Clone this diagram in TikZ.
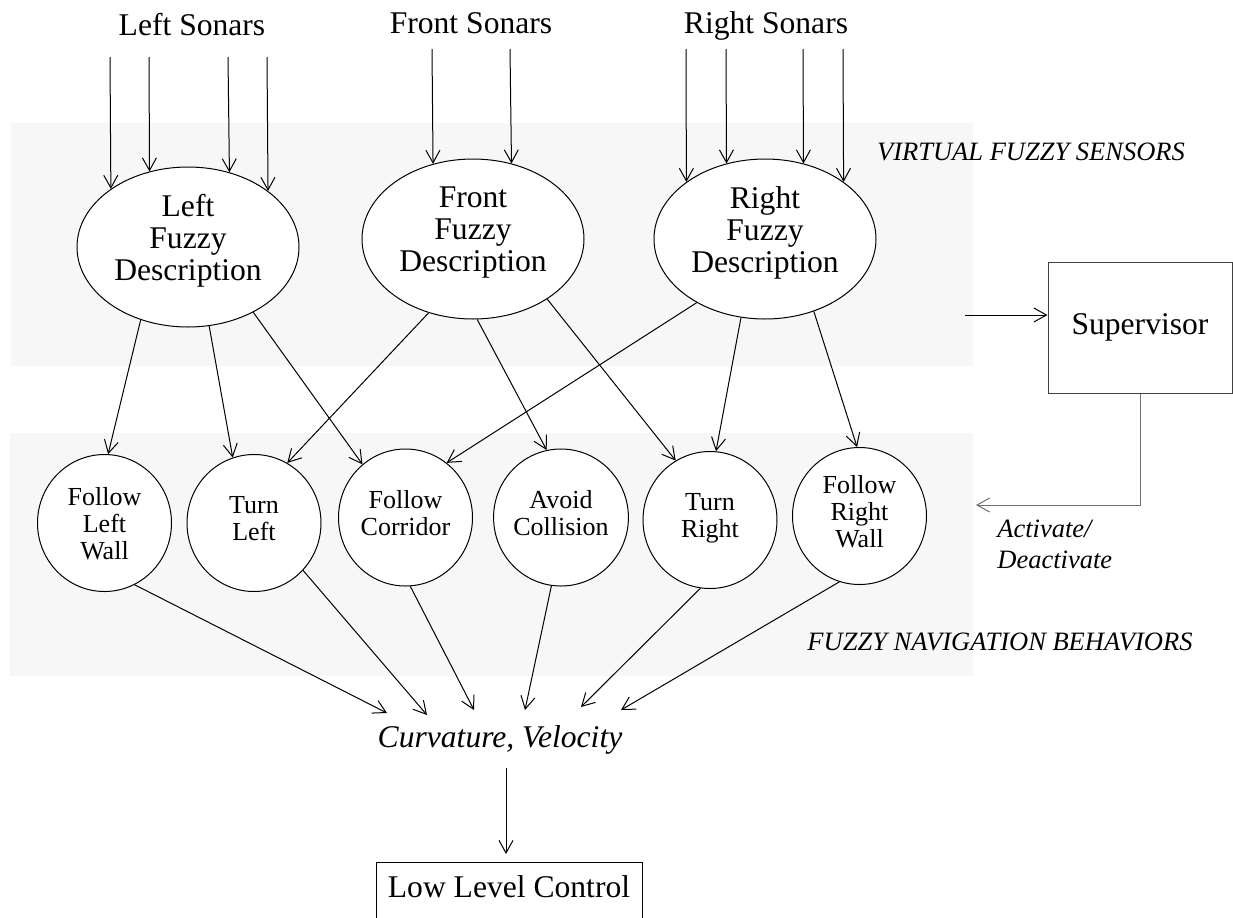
\documentclass[tikz,border=0pt]{standalone}
\usepackage{fontspec}
\setmainfont{Liberation Serif}
\usetikzlibrary{arrows.meta,shapes.geometric}
\definecolor{bandgray}{HTML}{F7F7F7}
\definecolor{fbgray}{HTML}{707070}
\begin{document}
\begin{tikzpicture}[x=0.5pt,y=-0.5pt,
  arr/.style={draw, line width=0.5pt, -{Straight Barb[length=6.3pt,width=7pt]}},
  bigtxt/.style={font=\fontsize{15.8}{16}\selectfont},
  desc/.style={ellipse, draw, fill=white, line width=0.5pt, inner sep=0pt,
    minimum width=111pt, minimum height=80pt, align=center, text depth=9.5pt, bigtxt},
  behav/.style={ellipse, draw, fill=white, line width=0.5pt, inner sep=0pt,
    minimum width=67pt, minimum height=68.5pt, align=center, text depth=5pt,
    font=\fontsize{13}{13.5}\selectfont},
  layer/.style={font=\fontsize{13.25}{15.5}\selectfont\itshape, anchor=base, inner xsep=0pt}]

\clip (0,0) rectangle (1233,917);
\fill[white] (0,0) rectangle (1233,917);

% layer bands
\fill[bandgray] (11,123) rectangle (973,366);
\fill[bandgray] (10,433) rectangle (973,676);

% sonar groups
\node[bigtxt, anchor=base] (LS) at (192,35) {Left Sonars};
\node[bigtxt, anchor=base] (FS) at (471,33) {Front Sonars};
\node[bigtxt, anchor=base] (RS) at (766,33) {Right Sonars};

% virtual fuzzy sensors
\node[desc] (L) at (188,247) {Left\\Fuzzy\\Description};
\node[desc] (F) at (473,239) {Front\\Fuzzy\\Description};
\node[desc] (R) at (765,239) {Right\\Fuzzy\\Description};

% fuzzy behaviours
\node[behav, text depth=0pt] (FLW) at (104.5,523) {Follow\\Left\\Wall};
\node[behav] (TL)  at (254,523)   {Turn\\Left};
\node[behav] (FC)  at (405.5,517.5) {Follow\\Corridor};
\node[behav] (AC)  at (561,517.5) {Avoid\\Collision};
\node[behav] (TR)  at (710,520)   {Turn\\Right};
\node[behav] (FRW) at (859.5,516) {Follow\\Right\\Wall};

% layer labels
\node[layer] (VFS) at (1031,160) {VIRTUAL FUZZY SENSORS};
\node[layer] (FNB) at (1000,650) {FUZZY NAVIGATION BEHAVIORS};

% supervisor
\node[draw=black!75, line width=0.5pt, minimum width=92pt, minimum height=65.5pt, bigtxt]
  (SUP) at (1140,327.5) {Supervisor};
\node[layer, anchor=base west] (ACT) at (997,537) {Activate/};
\node[layer, anchor=base west] (DEA) at (997,568) {Deactivate};

% outputs
\node[font=\fontsize{15.8}{16}\selectfont\itshape, anchor=base] (CV) at (500,747)
  {Curvature, Velocity};
\node[draw, line width=0.5pt, anchor=north, minimum width=133pt, text height=11pt,
  text depth=40pt, inner ysep=6.5pt, bigtxt] (LLC) at (509,862) {Low Level Control};

% sonar inputs
\coordinate (ls1) at (110,57);
\coordinate (ls2) at (149,57);
\coordinate (ls3) at (228,57);
\coordinate (ls4) at (267,57);
\coordinate (fs1) at (432,49);
\coordinate (fs2) at (510,49);
\coordinate (rs1) at (686,49);
\coordinate (rs2) at (726,49);
\coordinate (rs3) at (803,49);
\coordinate (rs4) at (843,49);
\draw[arr] (ls1) -- (L.143.9);
\draw[arr] (ls2) -- (L.117.5);
\draw[arr] (ls3) -- (L.61.8);
\draw[arr] (ls4) -- (L.35.4);
\draw[arr] (fs1) -- (F.118.9);
\draw[arr] (fs2) -- (F.63.9);
\draw[arr] (rs1) -- (R.144.6);
\draw[arr] (rs2) -- (R.117.5);
\draw[arr] (rs3) -- (R.63.2);
\draw[arr] (rs4) -- (R.36.1);

% sensors to behaviours
\draw[arr] (L.237.8) -- (FLW.87.8);
\draw[arr] (L.285.3) -- (TL.108.2);
\draw[arr] (L.315)   -- (FC.129.2);
\draw[arr] (F.239.2) -- (TL.61.6);
\draw[arr] (F.273.7) -- (AC.102);
\draw[arr] (F.321.8) -- (TR.120.8);
\draw[arr] (R.223.3) -- (FC.53.2);
\draw[arr] (R.253.6) -- (TR.85.8);
\draw[arr] (R.304.3) -- (FRW.92);

% behaviours to command
\coordinate (t1) at (387,713);
\coordinate (t2) at (427,715);
\coordinate (t3) at (474,710);
\coordinate (t4) at (525,710);
\coordinate (t5) at (581,707);
\coordinate (t6) at (621,710);
\draw[arr] (FLW.296.2) -- (t1);
\draw[arr] (TL.316.2)  -- (t2);
\draw[arr] (FC.274)    -- (t3);
\draw[arr] (AC.262.5)  -- (t4);
\draw[arr] (TR.262.6)  -- (t5);
\draw[arr] (FRW.253.5) -- (t6);

% command to low level control
\coordinate (cvout) at (506,768);
\draw[arr, shorten >=4pt] (cvout) -- (cvout |- LLC.north);

% supervisor links
\coordinate (supin) at (965,315);
\draw[arr] (supin) -- (supin -| SUP.west);
\coordinate (fbend) at (976,505);
\draw[arr, draw=fbgray] (SUP.south) |- (fbend);
\end{tikzpicture}
\end{document}
